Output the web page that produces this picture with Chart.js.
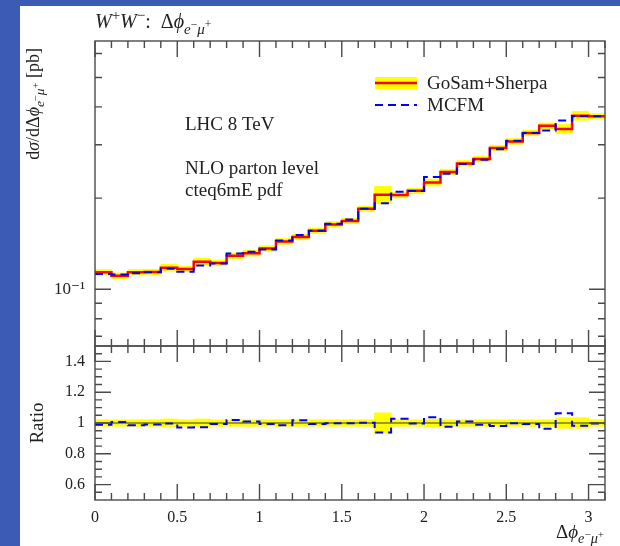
<!DOCTYPE html>
<html>
<head>
<meta charset="utf-8">
<script src="https://cdn.jsdelivr.net/npm/chart.js@4/dist/chart.umd.min.js"></script>
<style>
  html, body { margin: 0; padding: 0; }
  body { width: 620px; height: 546px; background: #3b5bb5; position: relative; overflow: hidden; }
  #sheet { position: absolute; left: 20px; top: 6px; width: 600px; height: 540px; background: #fff; }
  canvas { position: absolute; left: 0; top: 0; }
</style>
</head>
<body>
<div id="sheet"></div>
<canvas id="mainChart" width="620" height="546" style="width:620px;height:546px"></canvas>
<canvas id="ratioChart" width="620" height="546" style="width:620px;height:546px"></canvas>
<script>
// bin edges in delta phi (31 bins of 0.1)
const binEdges = [0, 0.1, 0.2, 0.3, 0.4, 0.5, 0.6, 0.7, 0.8, 0.9, 1.0, 1.1, 1.2, 1.3, 1.4, 1.5,
    1.6, 1.7, 1.8, 1.9, 2.0, 2.1, 2.2, 2.3, 2.4, 2.5, 2.6, 2.7, 2.8, 2.9, 3.0, 3.1];

// dsigma/ddphi [pb]
const gosam = [0.1138, 0.1109, 0.1138, 0.1141, 0.1179, 0.1167, 0.1234, 0.1222, 0.1291, 0.1316,
    0.1363, 0.1439, 0.1489, 0.1561, 0.1637, 0.1682, 0.1843, 0.2050, 0.2047, 0.2114,
    0.2252, 0.2439, 0.2604, 0.2691, 0.2927, 0.3077, 0.3281, 0.3467, 0.3381, 0.3742, 0.3722];
// relative uncertainty of the GoSam+Sherpa band
const gosamErr = [0.02, 0.02, 0.02, 0.02, 0.025, 0.02, 0.025, 0.02, 0.02, 0.02,
    0.02, 0.02, 0.02, 0.02, 0.02, 0.02, 0.02, 0.065, 0.02, 0.02,
    0.025, 0.02, 0.02, 0.02, 0.02, 0.02, 0.02, 0.02, 0.033, 0.033, 0.02];
const mcfm = [0.1124, 0.1119, 0.1130, 0.1139, 0.1170, 0.1143, 0.1199, 0.1216, 0.1313, 0.1331,
    0.1353, 0.1450, 0.1512, 0.1561, 0.1647, 0.1701, 0.1846, 0.1925, 0.2098, 0.2110,
    0.2346, 0.2406, 0.2592, 0.2677, 0.2900, 0.3093, 0.3281, 0.3345, 0.3610, 0.3722, 0.3722];
// MCFM / GoSam+Sherpa
const ratioMcfm = [0.989, 1.007, 0.985, 0.990, 0.996, 0.971, 0.973, 0.993, 1.020, 1.009,
    0.993, 0.985, 1.018, 0.993, 0.998, 0.998, 1.002, 0.938, 1.027, 0.996,
    1.038, 0.975, 1.009, 0.989, 0.980, 0.998, 0.993, 0.962, 1.064, 0.982, 0.997];
const ratioOne = binEdges.slice(1).map(() => 1);

// ticks
const xMajorTicks = [0, 0.5, 1, 1.5, 2, 2.5, 3];
const xMinorTicks = binEdges;
const mainMajorTicks = [0.1];
const mainMinorTicks = [0.07, 0.08, 0.09, 0.2, 0.3, 0.4, 0.5, 0.6];
const ratioMajorTicks = [0.6, 0.8, 1, 1.2, 1.4];
const ratioMinorTicks = [0.55, 0.65, 0.7, 0.75, 0.85, 0.9, 0.95, 1.05, 1.1, 1.15, 1.25, 1.3, 1.35, 1.45];

const SERIF = '"Liberation Serif", "DejaVu Serif", serif';
const TEXT = '#222';
const FRAME = '#4a4a4a';
const LABEL_SIZE = 19;

function steps(values) {
    const pts = values.map((v, i) => ({ x: binEdges[i], y: v }));
    pts.push({ x: binEdges[binEdges.length - 1], y: values[values.length - 1] });
    return pts;
}

function band(values, sign) {
    return steps(values.map((v, i) => v * (1 + sign * gosamErr[i])));
}

// rich text: parts with lvl '' | 'sup' | 'sub' | 'subsup'
function richFont(p, size) {
    const k = { sup: 0.75, sub: 0.75, subsup: 0.58 }[p.lvl] || 1;
    return (p.it ? 'italic ' : '') + (size * k) + 'px ' + SERIF;
}
function richOffset(p, size) {
    return { sup: -0.38, sub: 0.28, subsup: 0.0 }[p.lvl] * size || 0;
}
function richWidth(ctx, parts, size) {
    let w = 0;
    for (const p of parts) { ctx.font = richFont(p, size); w += ctx.measureText(p.t).width; }
    return w;
}
function drawRich(ctx, parts, x, y, size) {
    ctx.textAlign = 'left';
    ctx.textBaseline = 'alphabetic';
    let cx = x;
    for (const p of parts) {
        ctx.font = richFont(p, size);
        ctx.fillText(p.t, cx, y + richOffset(p, size));
        cx += ctx.measureText(p.t).width;
    }
}

const dphiParts = [
    { t: 'Δ' }, { t: 'ϕ', it: true }, { t: 'e', lvl: 'sub', it: true }, { t: '−', lvl: 'subsup' },
    { t: 'μ', lvl: 'sub', it: true }, { t: '+', lvl: 'subsup' }
];
const titleParts = [
    { t: 'W', it: true }, { t: '+', lvl: 'sup' }, { t: 'W', it: true }, { t: '−', lvl: 'sup' },
    { t: ':  ' }
].concat(dphiParts);
const yTitleParts = [{ t: 'd' }, { t: 'σ', it: true }, { t: '/d' }]
    .concat(dphiParts).concat([{ t: ' [pb]' }]);

// frame with inward ticks on all sides
function framePlugin(id, yMajor, yMinor) {
    return {
        id,
        afterDraw(chart) {
            const { ctx, chartArea: a, scales } = chart;
            const xs = scales.x, ys = scales.y;
            ctx.save();
            ctx.strokeStyle = FRAME;
            ctx.lineWidth = 1.4;
            ctx.strokeRect(a.left, a.top, a.right - a.left, a.bottom - a.top);
            ctx.beginPath();
            const xMarks = (list, len) => list.forEach(v => {
                const px = xs.getPixelForValue(v);
                ctx.moveTo(px, a.top); ctx.lineTo(px, a.top + len);
                ctx.moveTo(px, a.bottom); ctx.lineTo(px, a.bottom - len);
            });
            const yMarks = (list, len) => list.forEach(v => {
                const py = ys.getPixelForValue(v);
                ctx.moveTo(a.left, py); ctx.lineTo(a.left + len, py);
                ctx.moveTo(a.right, py); ctx.lineTo(a.right - len, py);
            });
            xMarks(xMinorTicks, 7);
            xMarks(xMajorTicks, 16);
            yMarks(yMinor, 7);
            yMarks(yMajor, 16);
            ctx.stroke();
            ctx.restore();
        }
    };
}

const mainTexts = {
    id: 'mainTexts',
    afterDraw(chart) {
        const ctx = chart.ctx;
        ctx.save();
        ctx.fillStyle = TEXT;
        drawRich(ctx, titleParts, 95, 28, 20);

        // y title, rotated, ending near the top of the frame
        const w = richWidth(ctx, yTitleParts, 18);
        ctx.translate(39, 48 + w);
        ctx.rotate(-Math.PI / 2);
        drawRich(ctx, yTitleParts, 0, 0, 18);
        ctx.setTransform(1, 0, 0, 1, 0, 0);

        ctx.font = LABEL_SIZE + 'px ' + SERIF;
        ctx.fillText('LHC 8 TeV', 185, 130);
        ctx.fillText('NLO parton level', 185, 174);
        ctx.fillText('cteq6mE pdf', 185, 196);

        // legend
        ctx.fillStyle = '#ffff00';
        ctx.fillRect(375, 77, 42, 12);
        ctx.strokeStyle = '#ff0000';
        ctx.lineWidth = 2.5;
        ctx.beginPath(); ctx.moveTo(375, 83); ctx.lineTo(417, 83); ctx.stroke();
        ctx.strokeStyle = '#0000ff';
        ctx.lineWidth = 2;
        ctx.setLineDash([8, 5]);
        ctx.beginPath(); ctx.moveTo(375, 105); ctx.lineTo(417, 105); ctx.stroke();
        ctx.setLineDash([]);
        ctx.fillStyle = TEXT;
        ctx.font = LABEL_SIZE + 'px ' + SERIF;
        ctx.fillText('GoSam+Sherpa', 427, 89);
        ctx.fillText('MCFM', 427, 111);
        ctx.restore();
    }
};

const ratioTexts = {
    id: 'ratioTexts',
    afterDraw(chart) {
        const ctx = chart.ctx;
        ctx.save();
        ctx.fillStyle = TEXT;
        ctx.translate(43, 423);
        ctx.rotate(-Math.PI / 2);
        ctx.font = LABEL_SIZE + 'px ' + SERIF;
        ctx.textAlign = 'center';
        ctx.fillText('Ratio', 0, 0);
        ctx.setTransform(1, 0, 0, 1, 0, 0);
        const w = richWidth(ctx, dphiParts, 19);
        drawRich(ctx, dphiParts, 604 - w, 538, 19);
        ctx.restore();
    }
};

const tickFont = { family: SERIF, size: 16 };
const hideGrid = { display: false, drawTicks: false };

new Chart(document.getElementById('mainChart'), {
    type: 'line',
    data: {
        datasets: [
            { label: 'MCFM', data: steps(mcfm), stepped: true, borderColor: '#0000ff', borderWidth: 2, borderDash: [8, 5], fill: false },
            { label: 'GoSam+Sherpa', data: steps(gosam), stepped: true, borderColor: '#ff0000', borderWidth: 2.5, fill: false },
            { label: 'band low', data: band(gosam, -1), stepped: true, borderColor: '#ffff00', borderWidth: 1, fill: false },
            { label: 'band high', data: band(gosam, 1), stepped: true, borderColor: '#ffff00', borderWidth: 1, backgroundColor: '#ffff00', fill: '-1' }
        ]
    },
    options: {
        responsive: false,
        animation: false,
        layout: { padding: { left: 0, top: 41, right: 15, bottom: 200 } },
        elements: { point: { radius: 0 } },
        plugins: { legend: { display: false }, tooltip: { enabled: false } },
        scales: {
            x: { type: 'linear', min: 0, max: 3.1, display: false },
            y: {
                type: 'logarithmic', min: 0.065, max: 0.66,
                afterFit: s => { s.width = 95; },
                afterBuildTicks: s => { s.ticks = mainMajorTicks.map(v => ({ value: v })); },
                ticks: { callback: v => (v === 0.1 ? '10⁻¹' : ''), font: { family: SERIF, size: 17 }, color: TEXT, padding: 10 },
                grid: hideGrid,
                border: { display: false }
            }
        }
    },
    plugins: [framePlugin('mainFrame', mainMajorTicks, mainMinorTicks), mainTexts]
});

new Chart(document.getElementById('ratioChart'), {
    type: 'line',
    data: {
        datasets: [
            { label: 'MCFM', data: steps(ratioMcfm), stepped: true, borderColor: '#0000ff', borderWidth: 2, borderDash: [8, 5], fill: false },
            { label: 'GoSam+Sherpa', data: steps(ratioOne), stepped: true, borderColor: '#3a3a1a', borderWidth: 1.2, fill: false },
            { label: 'band low', data: steps(gosamErr.map(e => 1 - e)), stepped: true, borderColor: '#ffff00', borderWidth: 1, fill: false },
            { label: 'band high', data: steps(gosamErr.map(e => 1 + e)), stepped: true, borderColor: '#ffff00', borderWidth: 1, backgroundColor: '#ffff00', fill: '-1' }
        ]
    },
    options: {
        responsive: false,
        animation: false,
        layout: { padding: { left: 0, top: 346, right: 15, bottom: 0 } },
        elements: { point: { radius: 0 } },
        plugins: { legend: { display: false }, tooltip: { enabled: false } },
        scales: {
            x: {
                type: 'linear', min: 0, max: 3.1,
                afterFit: s => { s.height = 46; },
                afterBuildTicks: s => { s.ticks = xMajorTicks.map(v => ({ value: v })); },
                ticks: { callback: v => String(v), font: tickFont, color: TEXT, padding: 8, maxRotation: 0, autoSkip: false },
                grid: hideGrid,
                border: { display: false }
            },
            y: {
                min: 0.5, max: 1.5,
                afterFit: s => { s.width = 95; },
                afterBuildTicks: s => { s.ticks = ratioMajorTicks.map(v => ({ value: v })); },
                ticks: { callback: v => String(v), font: tickFont, color: TEXT, padding: 10 },
                grid: hideGrid,
                border: { display: false }
            }
        }
    },
    plugins: [framePlugin('ratioFrame', ratioMajorTicks, ratioMinorTicks), ratioTexts]
});
</script>
</body>
</html>
